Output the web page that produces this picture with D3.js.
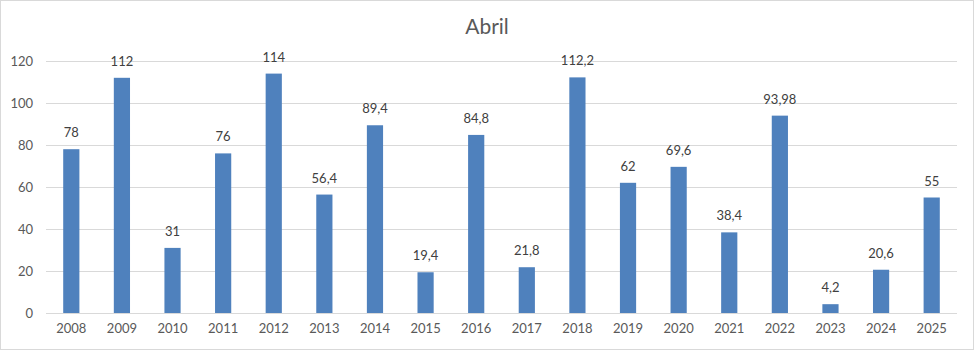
<!DOCTYPE html>
<html>
<head>
<meta charset="utf-8">
<script src="https://cdn.jsdelivr.net/npm/d3@7"></script>
<style>
  html, body { margin: 0; padding: 0; background: #fff; }
  svg { display: block; font-family: Lato, "Open Sans", sans-serif; }
</style>
</head>
<body>
<svg id="chart" width="974" height="352"></svg>
<script>
const years = ["2008","2009","2010","2011","2012","2013","2014","2015","2016","2017","2018","2019","2020","2021","2022","2023","2024","2025"];
const values = [78, 112, 31, 76, 114, 56.4, 89.4, 19.4, 84.8, 21.8, 112.2, 62, 69.6, 38.4, 93.98, 4.2, 20.6, 55];
const labels = ["78","112","31","76","114","56,4","89,4","19,4","84,8","21,8","112,2","62","69,6","38,4","93,98","4,2","20,6","55"];
const yTicks = [0, 20, 40, 60, 80, 100, 120];
const title = "Abril";

const svg = d3.select("#chart");
const W = 974, H = 352;
const m = {left: 46, right: 17, top: 61, bottom: 39};

svg.append("rect").attr("x", 0.5).attr("y", 0.5).attr("width", W - 1).attr("height", H - 3)
  .attr("fill", "#fff").attr("stroke", "#d9d9d9");

const x = d3.scaleBand().domain(years).range([m.left, W - m.right]).paddingInner(0.68).paddingOuter(0.34);
const y = d3.scaleLinear().domain([0, 120]).range([H - m.bottom, m.top]);

// gridlines
svg.append("g").selectAll("line").data(yTicks).join("line")
  .attr("x1", m.left).attr("x2", W - m.right)
  .attr("y1", d => Math.round(y(d)) + 0.5).attr("y2", d => Math.round(y(d)) + 0.5)
  .attr("stroke", "#d9d9d9").attr("stroke-width", 1);

// y axis labels
const yAxis = d3.axisLeft(y).tickValues(yTicks).tickSize(0).tickPadding(0);
const gy = svg.append("g").attr("transform", `translate(${m.left - 13},0)`).call(yAxis);
gy.select(".domain").remove();
gy.selectAll("text").attr("fill", "#595959").style("font-size", "13px").style("font-family", "Lato, 'Open Sans', sans-serif");

// x axis
const xAxis = d3.axisBottom(x).tickSize(0).tickPadding(11);
const gx = svg.append("g").attr("transform", `translate(0,${y(0)})`).call(xAxis);
gx.select(".domain").remove();
gx.selectAll("text").attr("fill", "#595959").style("font-size", "13px").style("font-family", "Lato, 'Open Sans', sans-serif");

// bars
svg.append("g").selectAll("rect").data(values).join("rect")
  .attr("x", (d, i) => x(years[i]))
  .attr("width", x.bandwidth())
  .attr("y", d => y(d))
  .attr("height", d => y(0) - y(d))
  .attr("fill", "#4f81bd");

// data labels
svg.append("g").selectAll("text").data(values).join("text")
  .attr("x", (d, i) => x(years[i]) + x.bandwidth() / 2)
  .attr("y", d => y(d) - 12)
  .attr("text-anchor", "middle")
  .attr("fill", "#404040")
  .style("font-size", "13px")
  .text((d, i) => labels[i]);

// title
svg.append("text").attr("x", 487).attr("y", 34).attr("text-anchor", "middle")
  .attr("fill", "#595959").style("font-size", "21px").text(title);
</script>
</body>
</html>
